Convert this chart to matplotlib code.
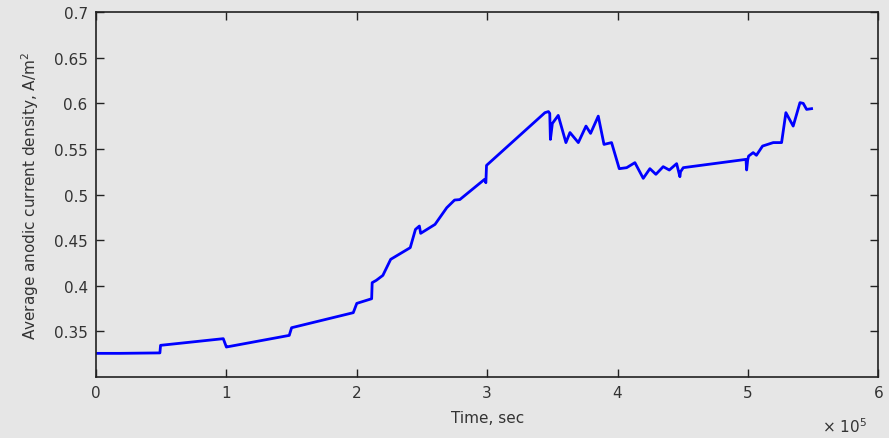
import matplotlib.pyplot as plt
from matplotlib.ticker import FuncFormatter
import numpy as np

# time in seconds, current density in A/m^2
t = [0, 18000, 49000, 49500, 97600, 100000, 100500, 148200, 150000, 197300,
     200000, 211400, 211800, 215000, 220000, 226000, 241000, 245000, 248000, 249000,
     260000, 269000, 275000, 279000, 298000, 299000, 299500, 344300, 347000, 348000,
     348500, 350000, 354500, 360400, 363500, 369900, 375800, 379300, 385200, 389600,
     395400, 401300, 407000, 413300, 419700, 424800, 429400, 435000, 439700, 445300,
     447800, 448300, 450400, 498500, 499000, 499800, 500500, 504000, 506500, 511200,
     519400, 525800, 529100, 534700, 539900, 542400, 545000, 548800]
j = [0.3259, 0.3259, 0.3264, 0.3347, 0.3420, 0.3328, 0.3330, 0.3456, 0.3540, 0.3705,
     0.3807, 0.3858, 0.4034, 0.4060, 0.4114, 0.4290, 0.4418, 0.4618, 0.4655, 0.4575,
     0.4673, 0.4856, 0.4940, 0.4945, 0.5167, 0.5130, 0.5320, 0.5898, 0.5910, 0.5890,
     0.5605, 0.5780, 0.5868, 0.5570, 0.5680, 0.5570, 0.5751, 0.5671, 0.5860, 0.5550,
     0.5570, 0.5284, 0.5295, 0.5350, 0.5178, 0.5284, 0.5222, 0.5306, 0.5269, 0.5339,
     0.5196, 0.5250, 0.5295, 0.5386, 0.5270, 0.5380, 0.5422, 0.5460, 0.5431, 0.5532,
     0.5570, 0.5570, 0.5898, 0.5751, 0.6008, 0.6000, 0.5934, 0.5942]

bg = '#e6e6e6'
fig = plt.figure(figsize=(8.89, 4.39), dpi=100, facecolor=bg)
ax = fig.add_axes([0.108, 0.139, 0.88, 0.831], facecolor=bg)

ax.plot(t, j, color='#0000ff', linewidth=2.0)

ax.set_xlim(0, 6e5)
ax.set_ylim(0.3, 0.7)
ax.set_xticks(np.arange(0, 7e5, 1e5))
ax.set_yticks(np.arange(0.35, 0.701, 0.05))
ax.xaxis.set_major_formatter(FuncFormatter(lambda v, p: '%g' % (v / 1e5)))
ax.yaxis.set_major_formatter(FuncFormatter(lambda v, p: '%g' % round(v, 2)))

ax.tick_params(direction='in', length=6, width=1, top=True, right=True,
               labelsize=11, labelcolor='#333333', colors='#222222', pad=6)
for s in ax.spines.values():
    s.set_color('#222222')
    s.set_linewidth(1.2)

ax.set_xlabel('Time, sec', fontsize=11, color='#333333', labelpad=7)
ax.set_ylabel('Average anodic current density, A/m$^2$', fontsize=11,
              color='#333333', labelpad=9)
ax.text(0.985, -0.108, r'$\times$ 10$^5$', transform=ax.transAxes, fontsize=11,
        color='#333333', ha='right', va='top')

fig.savefig('out.png', dpi=100, facecolor=bg)
